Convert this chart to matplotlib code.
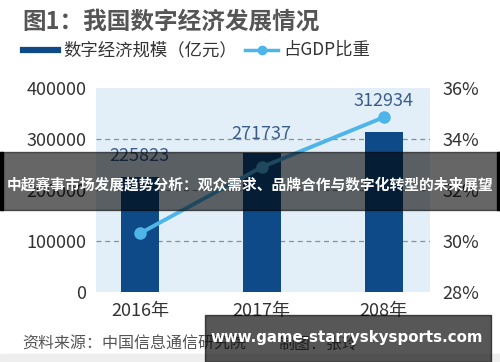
import matplotlib
matplotlib.use("Agg")
import matplotlib.pyplot as plt
from matplotlib.patches import Rectangle
from matplotlib.lines import Line2D

plt.rcParams['font.family'] = ['Noto Sans CJK SC', 'DejaVu Sans']

# data
years = ["2016年", "2017年", "208年"]
scale = [225823, 271737, 312934]
share = [30.3, 32.9, 34.85]
left_ticks = [0, 100000, 200000, 300000, 400000]
right_ticks = [28, 30, 32, 34, 36]

bar_c = "#0f4a88"
line_c = "#4db5e8"
txt_c = "#333333"
lab_c = "#3c5d8c"

fig = plt.figure(figsize=(5, 3.62), dpi=100)
fig.patch.set_facecolor("white")

ax = fig.add_axes([0.192, 0.193, 0.668, 0.564])
ax.set_facecolor("#e2eff9")
x = list(range(len(years)))
ax.bar(x, scale, width=0.31, color=bar_c, zorder=2)
ax.set_xlim(-0.36, 2.38)
ax.set_ylim(0, 400000)
ax.set_yticks(left_ticks)
ax.set_yticklabels([str(v) for v in left_ticks], fontsize=13, color=txt_c)
ax.set_xticks(x)
ax.set_xticklabels(years, fontsize=13, color=txt_c)
for v in [100000, 200000, 300000]:
    ax.axhline(v, color="#8a8f96", lw=0.9, ls=(0, (4, 3)), zorder=1)
for s in ax.spines.values():
    s.set_visible(False)
ax.tick_params(length=0, pad=7)

ax2 = ax.twinx()
ax2.set_ylim(28, 36)
ax2.plot(x, share, color=line_c, lw=2.8, marker="o", ms=8, zorder=3)
ax2.set_yticks(right_ticks)
ax2.set_yticklabels([f"{v}%" for v in right_ticks], fontsize=13, color=txt_c)
for s in ax2.spines.values():
    s.set_visible(False)
ax2.tick_params(length=0, pad=9)

# value labels
ax.text(0, scale[0] + 24000, str(scale[0]), ha="center", va="bottom", fontsize=13, color=lab_c, zorder=4)
ax.text(1, scale[1] + 20000, str(scale[1]), ha="center", va="bottom", fontsize=13, color=lab_c, zorder=4)
ax2.text(2, share[2] + 0.3, str(scale[2]), ha="center", va="bottom", fontsize=13, color=lab_c, zorder=4)

# title, legend, source
fig.text(0.044, 0.94, "图1：我国数字经济发展情况", fontsize=17, fontweight="bold", color="#555555", va="center")
fig.add_artist(Line2D([0.046, 0.116], [0.862, 0.862], color=bar_c, lw=4.5))
fig.text(0.126, 0.862, "数字经济规模（亿元）", fontsize=12.5, color=txt_c, va="center")
fig.add_artist(Line2D([0.49, 0.523, 0.556], [0.862, 0.862, 0.862],
                      color=line_c, lw=2.5, marker="o", markevery=[1], ms=6))
fig.text(0.566, 0.862, "占GDP比重", fontsize=12.5, color=txt_c, va="center")
fig.text(0.044, 0.05, "资料来源：中国信息通信研究院", fontsize=11.5, color="#555555", va="center")
fig.text(0.556, 0.05, "制图：张玲", fontsize=11.5, color="#555555", va="center")
fig.add_artist(Rectangle((0.0, 0.0), 1.0, 0.022, transform=fig.transFigure, color="#eeeeee", zorder=0))

# overlay banners
fig.add_artist(Rectangle((0.0, 0.42), 1.0, 0.16, transform=fig.transFigure, color="black", alpha=0.6, zorder=10))
fig.add_artist(Rectangle((0.0, 0.42), 0.006, 0.16, transform=fig.transFigure, color="black", zorder=11))
fig.add_artist(Rectangle((0.994, 0.42), 0.006, 0.16, transform=fig.transFigure, color="black", zorder=11))
fig.text(0.5, 0.49, "中超赛事市场发展趋势分析：观众需求、品牌合作与数字化转型的未来展望", fontsize=10.6,
         fontweight="bold", color="white", ha="center", va="center", zorder=12)
fig.add_artist(Rectangle((0.41, 0.0), 0.572, 0.13, transform=fig.transFigure, color="black", alpha=0.66, zorder=10))
fig.text(0.694, 0.067, "www.game-starryskysports.com", fontsize=10.8, fontweight="bold", color="white",
         ha="center", va="center", zorder=12, family="DejaVu Sans")

fig.savefig("out.png", dpi=100)
